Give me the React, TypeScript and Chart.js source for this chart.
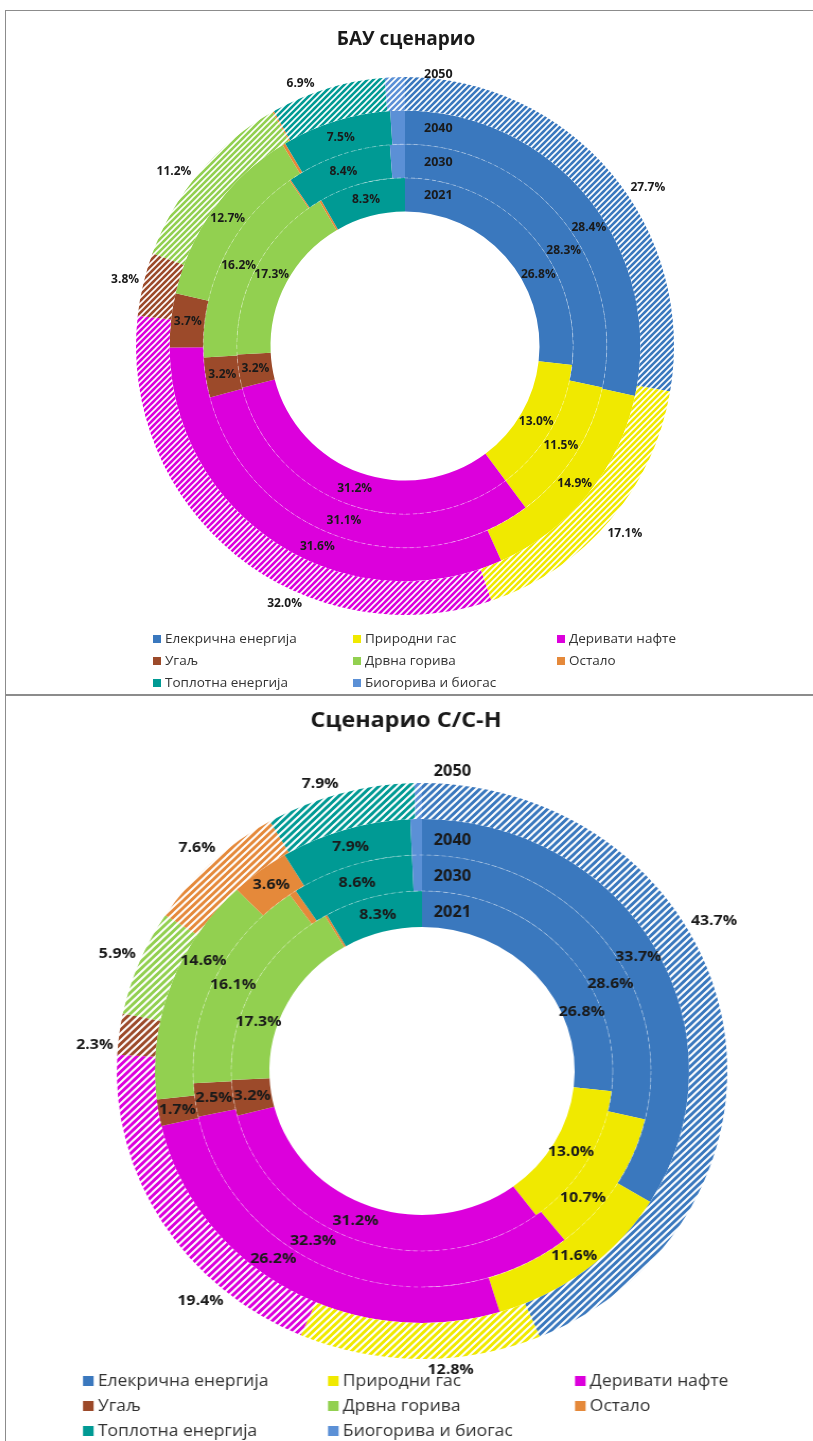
import React, { useEffect, useRef } from 'react';
import { Chart, registerables } from 'chart.js';

Chart.register(...registerables);

// ---------- data ----------
const CATEGORIES = [
  'Елекрична енергија',
  'Природни гас',
  'Деривати нафте',
  'Угаљ',
  'Дрвна горива',
  'Остало',
  'Топлотна енергија',
  'Биогорива и биогас',
];

const COLORS = ['#3A78BE', '#F0E900', '#DC00DC', '#9C4A2A', '#92D050', '#E5893A', '#009A94', '#5B90D6'];

// rings from outer to inner
const YEARS = ['2050', '2040', '2030', '2021'];

const BAU_2021 = [26.8, 13.0, 31.2, 3.2, 17.3, 0.2, 8.3, 0.0];
const BAU_2030 = [28.3, 11.5, 31.1, 3.2, 16.2, 0.1, 8.4, 1.2];
const BAU_2040 = [28.4, 14.9, 31.6, 3.7, 12.7, 0.2, 7.5, 1.0];
const BAU_2050 = [27.7, 17.1, 32.0, 3.8, 11.2, 0.1, 6.9, 1.2];

const CCH_2021 = [26.8, 13.0, 31.2, 3.2, 17.3, 0.2, 8.3, 0.0];
const CCH_2030 = [28.6, 10.7, 32.3, 2.5, 16.1, 0.5, 8.6, 0.7];
const CCH_2040 = [33.7, 11.6, 26.2, 1.7, 14.6, 3.6, 7.9, 0.7];
const CCH_2050 = [43.7, 12.8, 19.4, 2.3, 5.9, 7.6, 7.9, 0.4];

const TITLE_BAU = 'БАУ сценарио';
const TITLE_CCH = 'Сценарио С/С-Н';

const LABEL_MIN = 1.5;
const FONT = '"Open Sans", "Noto Sans", "DejaVu Sans", sans-serif';

// ---------- helpers ----------
function hatch(color: string, period: number, lw: number): CanvasPattern | string {
  const c = document.createElement('canvas');
  c.width = period;
  c.height = period;
  const ctx = c.getContext('2d');
  if (!ctx) return color;
  ctx.fillStyle = color;
  ctx.fillRect(0, 0, period, period);
  ctx.strokeStyle = '#ffffff';
  ctx.lineWidth = lw;
  ctx.beginPath();
  ctx.moveTo(-1, period + 1);
  ctx.lineTo(period + 1, -1);
  ctx.moveTo(-2, 2);
  ctx.lineTo(2, -2);
  ctx.moveTo(period - 2, period + 2);
  ctx.lineTo(period + 2, period - 2);
  ctx.stroke();
  return ctx.createPattern(c, 'repeat') || color;
}

type Panel = {
  title: string;
  rings: number[][];
  width: number;
  height: number;
  pad: { left: number; right: number; top: number; bottom: number };
  titleX: number;
  titleY: number;
  titleSize: number;
  labelSize: number;
  yearSize: number;
  yearDx: number;
  yearDy: number;
  yearOuterGap: number;
  outerGap: number;
  legendSize: number;
  legendBox: number;
  legendCols: number[];
  legendRows: number[];
  frac: Record<string, number>;
  hatchPeriod: number;
  hatchWidth: number;
};

const TOP: Panel = {
  title: TITLE_BAU,
  rings: [BAU_2050, BAU_2040, BAU_2030, BAU_2021],
  width: 813,
  height: 695,
  pad: { left: 136, right: 139, top: 77, bottom: 80 },
  titleX: 406,
  titleY: 40,
  titleSize: 19,
  labelSize: 12,
  yearSize: 12.5,
  yearDx: 19,
  yearDy: 1,
  yearOuterGap: 3,
  outerGap: 4,
  legendSize: 13.5,
  legendBox: 8,
  legendCols: [153, 353, 557],
  legendRows: [639, 661, 683],
  frac: {
    '0-0': 0.57, '1-0': 0.56, '2-0': 0.58, '3-0': 0.64,
    '0-2': 0.38, '1-2': 0.42,
    '0-4': 0.42, '0-6': 0.3,
  },
  hatchPeriod: 6,
  hatchWidth: 1.6,
};

const SX = 1.06; // horizontal stretch of the lower panel
const CX2 = 422;
const ux = (x: number) => CX2 + (x - CX2) / SX;

const BOTTOM: Panel = {
  title: TITLE_CCH,
  rings: [CCH_2050, CCH_2040, CCH_2030, CCH_2021],
  width: 813,
  height: 746,
  pad: { left: 134, right: 103, top: 88, bottom: 82 },
  titleX: ux(406),
  titleY: 26,
  titleSize: 22,
  labelSize: 15,
  yearSize: 15.5,
  yearDx: 11,
  yearDy: 4,
  yearOuterGap: 11,
  outerGap: 4,
  legendSize: 16.5,
  legendBox: 10,
  legendCols: [ux(83), ux(328), ux(575)],
  legendRows: [686, 711, 736],
  frac: {
    '0-0': 0.39, '1-0': 0.5, '2-0': 0.62, '3-0': 0.71,
    '0-1': 0.38, '2-1': 0.7,
    '0-2': 0.27, '1-2': 0.57, '2-2': 0.6, '3-2': 0.53,
    '0-3': 0.2, '1-4': 0.66, '3-4': 0.33, '0-6': 0.4,
  },
  hatchPeriod: 7,
  hatchWidth: 2,
};

function DonutPanel({ cfg }: { cfg: Panel }) {
  const ref = useRef<HTMLCanvasElement | null>(null);

  useEffect(() => {
    const canvas = ref.current;
    if (!canvas) return;

    const annot = {
      id: 'annot',
      afterDatasetsDraw(chart: any) {
        const ctx: CanvasRenderingContext2D = chart.ctx;
        ctx.save();
        // faint ring separators between the solid rings
        const n = chart.data.datasets.length;
        for (let di = 1; di < n - 1; di++) {
          const meta = chart.getDatasetMeta(di);
          const a0: any = meta.data[0];
          if (!a0) continue;
          const p = a0.getProps(['x', 'y', 'innerRadius'], true);
          ctx.beginPath();
          ctx.strokeStyle = 'rgba(255,255,255,0.35)';
          ctx.lineWidth = 1;
          ctx.setLineDash([4, 3]);
          ctx.arc(p.x, p.y, p.innerRadius, 0, Math.PI * 2);
          ctx.stroke();
        }
        ctx.setLineDash([]);
        ctx.fillStyle = '#1a1a1a';
        ctx.textAlign = 'center';
        ctx.textBaseline = 'middle';
        ctx.font = `bold ${cfg.labelSize}px ${FONT}`;
        chart.data.datasets.forEach((ds: any, di: number) => {
          const meta = chart.getDatasetMeta(di);
          meta.data.forEach((arc: any, i: number) => {
            const v = ds.data[i] as number;
            if (v < LABEL_MIN) return;
            const p = arc.getProps(['x', 'y', 'startAngle', 'endAngle', 'innerRadius', 'outerRadius'], true);
            const f = cfg.frac[`${di}-${i}`] ?? 0.5;
            const a = p.startAngle + (p.endAngle - p.startAngle) * f;
            const text = `${v.toFixed(1)}%`;
            let d: number;
            if (di === 0) {
              const w = ctx.measureText(text).width;
              const h = cfg.labelSize * 0.75;
              d = p.outerRadius + cfg.outerGap + Math.abs(Math.cos(a)) * w / 2 + Math.abs(Math.sin(a)) * h / 2;
            } else {
              d = (p.innerRadius + p.outerRadius) / 2;
            }
            ctx.fillText(text, p.x + Math.cos(a) * d, p.y + Math.sin(a) * d);
          });
          // year label
          const a0: any = meta.data[0];
          if (a0) {
            const p = a0.getProps(['x', 'y', 'innerRadius', 'outerRadius'], true);
            const r = di === 0 ? p.outerRadius + cfg.yearOuterGap : (p.innerRadius + p.outerRadius) / 2 - cfg.yearDy;
            ctx.save();
            ctx.font = `bold ${cfg.yearSize}px ${FONT}`;
            ctx.textAlign = 'left';
            ctx.fillText(String(ds.label), p.x + cfg.yearDx, p.y - r);
            ctx.restore();
          }
        });
        ctx.restore();
      },
      afterDraw(chart: any) {
        const ctx: CanvasRenderingContext2D = chart.ctx;
        ctx.save();
        ctx.fillStyle = '#1a1a1a';
        ctx.textAlign = 'center';
        ctx.textBaseline = 'middle';
        ctx.font = `bold ${cfg.titleSize}px ${FONT}`;
        ctx.fillText(cfg.title, cfg.titleX, cfg.titleY);
        ctx.font = `${cfg.legendSize}px ${FONT}`;
        ctx.textAlign = 'left';
        const labels: string[] = chart.data.labels;
        labels.forEach((lab, i) => {
          const col = i % 3;
          const row = Math.floor(i / 3);
          const x = cfg.legendCols[col];
          const y = cfg.legendRows[row];
          ctx.fillStyle = COLORS[i];
          ctx.fillRect(x, y - cfg.legendBox / 2, cfg.legendBox, cfg.legendBox);
          ctx.fillStyle = '#333333';
          ctx.fillText(lab, x + cfg.legendBox + 4, y + 0.5);
        });
        ctx.restore();
      },
    };

    const chart = new Chart(canvas, {
      type: 'doughnut',
      data: {
        labels: CATEGORIES,
        datasets: cfg.rings.map((r, di) => ({
          label: YEARS[di],
          data: r,
          backgroundColor: di === 0 ? COLORS.map((c) => hatch(c, cfg.hatchPeriod, cfg.hatchWidth)) : COLORS,
          borderWidth: 0,
          hoverOffset: 0,
        })),
      },
      options: {
        responsive: false,
        animation: false,
        cutout: '50%',
        events: [],
        layout: { padding: cfg.pad },
        plugins: {
          legend: { display: false },
          title: { display: false },
          tooltip: { enabled: false },
        },
      },
      plugins: [annot],
    } as any);

    return () => chart.destroy();
  }, [cfg]);

  return <canvas ref={ref} width={cfg.width} height={cfg.height} />;
}

export default function App() {
  return (
    <div
      style={{
        position: 'absolute',
        left: 0,
        top: 0,
        width: 813,
        height: 1441,
        overflow: 'hidden',
        background: '#ffffff',
      }}
    >
      <div
        style={{
          position: 'absolute',
          left: 5,
          top: 10,
          width: 900,
          height: 686,
          border: '1.5px solid #8c8c8c',
          boxSizing: 'border-box',
        }}
      />
      <div
        style={{
          position: 'absolute',
          left: 5,
          top: 694,
          width: 900,
          height: 800,
          border: '1.5px solid #8c8c8c',
          boxSizing: 'border-box',
        }}
      />
      <div style={{ position: 'absolute', left: 0, top: 0 }}>
        <DonutPanel cfg={TOP} />
      </div>
      <div style={{ position: 'absolute', left: 0, top: 695, width: 813, height: 746, overflow: 'hidden' }}>
        <div style={{ transform: `scaleX(${SX})`, transformOrigin: `${CX2}px 0` }}>
          <DonutPanel cfg={BOTTOM} />
        </div>
      </div>
    </div>
  );
}
